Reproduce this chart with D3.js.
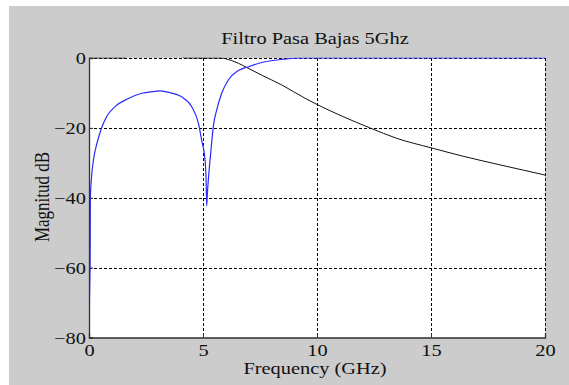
<!DOCTYPE html>
<html>
<head>
<meta charset="utf-8">
<script src="https://cdn.jsdelivr.net/npm/d3@7"></script>
<style>
  body { margin: 0; background: #fff; }
  text { font-family: "Liberation Serif", "DejaVu Serif", serif; fill: #111; }
</style>
</head>
<body>
<svg width="569" height="385"></svg>
<script>
// S11 (blue), GHz / dB
const s11Freq = [0, 0.01, 0.02, 0.04, 0.05, 0.06, 0.1, 0.2, 0.35, 0.56, 0.77, 1.14, 1.73, 2.31, 2.8, 3.1, 3.4, 4.06, 4.5, 4.8, 4.94, 5.09, 5.14, 5.16, 5.2, 5.27, 5.35, 5.45, 5.6, 5.82, 6.11, 6.55, 6.99, 7.57, 8.45, 9.5, 12, 15, 20];
const s11dB   = [-80, -76, -70, -62, -57, -40, -35, -29, -24.4, -19.9, -16.8, -13.9, -11.6, -10.1, -9.6, -9.4, -9.7, -11.1, -13.9, -18.7, -23.5, -29.2, -36, -42.3, -38, -32, -26.4, -19.7, -14.9, -10.1, -6.3, -3.6, -2.5, -1.3, -0.4, 0, 0, 0, 0];

// S21 (black)
const s21Freq = [0, 1.55, 1.6, 4.1, 4.15, 5.75, 6.4, 7.06, 7.57, 8.45, 9.47, 10, 11.15, 12.32, 13.5, 15, 16.4, 17.9, 19.05, 20];
const s21dB   = [0, 0, 0.6, 0.6, 0, 0, -1.1, -3.2, -4.9, -7.7, -11.5, -13.3, -16.8, -20, -23, -25.7, -28.1, -30.4, -32.1, -33.5];

const xTicks = [0, 5, 10, 15, 20];
const yTicks = [0, -20, -40, -60, -80];

const svg = d3.select("svg");
const sx = 1.2; // the original picture is a bit stretched sideways

// gray figure background
svg.append("rect")
    .attr("x", 9).attr("y", 6)
    .attr("width", 560).attr("height", 379)
    .attr("fill", "#cccccc");

const x = d3.scaleLinear().domain([0, 20]).range([89, 545]);
const y = d3.scaleLinear().domain([-80, 0]).range([337.5, 58]);

// plot area
svg.append("rect")
    .attr("x", x(0)).attr("y", y(0))
    .attr("width", x(20) - x(0)).attr("height", y(-80) - y(0))
    .attr("fill", "#fff");

svg.append("clipPath").attr("id", "clip")
  .append("rect")
    .attr("x", x(0)).attr("y", y(0) - 0.5)
    .attr("width", x(20) - x(0) + 1).attr("height", y(-80) - y(0) + 0.5);

// grid
const grid = svg.append("g")
    .attr("stroke", "#000")
    .attr("stroke-width", 1)
    .attr("stroke-dasharray", "3,2");

grid.selectAll(".vg")
    .data(xTicks.filter(d => d > 0))
    .enter().append("line")
    .attr("x1", d => Math.round(x(d)) + 0.5).attr("x2", d => Math.round(x(d)) + 0.5)
    .attr("y1", y(0)).attr("y2", y(-80));

grid.selectAll(".hg")
    .data(yTicks.filter(d => d > -80))
    .enter().append("line")
    .attr("x1", x(0)).attr("x2", x(20))
    .attr("y1", d => Math.round(y(d)) + 0.5).attr("y2", d => Math.round(y(d)) + 0.5);

// curves
const line = (fx, fy) => d3.line()
    .x((d, i) => x(fx[i]))
    .y(d => y(d))
    .curve(d3.curveMonotoneX)(fy);

const curves = svg.append("g").attr("clip-path", "url(#clip)");

curves.append("path")
    .attr("d", line(s21Freq, s21dB))
    .attr("fill", "none")
    .attr("stroke", "#111")
    .attr("stroke-width", 1);

curves.append("path")
    .attr("d", line(s11Freq, s11dB))
    .attr("fill", "none")
    .attr("stroke", "#2a2aff")
    .attr("stroke-width", 1.2);

// axes (left + bottom only, ticks inside)
const xAxis = svg.append("g")
    .attr("transform", "translate(0," + y(-80) + ")")
    .call(d3.axisBottom(x).tickValues(xTicks).tickSize(-4).tickFormat(d3.format("d")));

const yAxis = svg.append("g")
    .attr("transform", "translate(" + x(0) + ",0)")
    .call(d3.axisLeft(y).tickValues(yTicks).tickSize(-4).tickFormat(d3.format("d")));

[xAxis, yAxis].forEach(a => {
    a.select(".domain").attr("stroke", "#333").attr("stroke-width", 1.3);
    a.selectAll(".tick line").attr("stroke", "#333");
    a.selectAll(".tick text")
        .style("font-family", "Liberation Serif, serif")
        .style("font-size", "17px")
        .attr("fill", "#111")
        .attr("transform", "scale(" + sx + ",1)");
});
xAxis.selectAll(".tick text").attr("y", 18.5).attr("dy", 0);
yAxis.selectAll(".tick text").attr("x", -3 / sx).attr("dy", "0.34em");

// titles
svg.append("text")
    .attr("transform", "translate(315,44) scale(" + sx + ",1)")
    .attr("text-anchor", "middle")
    .style("font-size", "17px")
    .text("Filtro Pasa Bajas 5Ghz");

svg.append("text")
    .attr("transform", "translate(315,374) scale(" + sx + ",1)")
    .attr("text-anchor", "middle")
    .style("font-size", "17px")
    .text("Frequency (GHz)");

svg.append("text")
    .attr("transform", "translate(49,197) rotate(-90) scale(1," + sx + ")")
    .attr("text-anchor", "middle")
    .style("font-size", "17px")
    .text("Magnitud dB");
</script>
</body>
</html>
